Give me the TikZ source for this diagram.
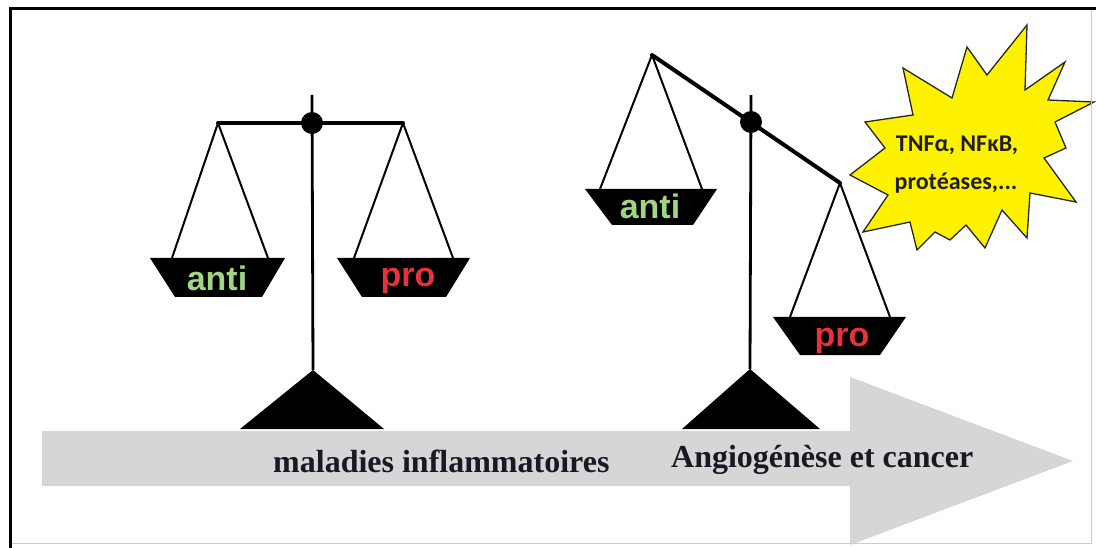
\documentclass[tikz,border=0pt]{standalone}
\usepackage{fontspec}
\newfontfamily\arialf{Liberation Sans}
\newfontfamily\calibf{Carlito}
\newfontfamily\timesf{Liberation Serif}
\definecolor{antigreen}{RGB}{160,214,130}
\definecolor{prored}{RGB}{230,50,58}
\definecolor{staryellow}{RGB}{255,242,0}
\definecolor{arrowgray}{RGB}{214,214,214}
\definecolor{textdark}{RGB}{25,25,35}
\tikzset{
  beamline/.style={line width=4pt, line cap=round},
  poleline/.style={line width=2.8pt},
  stringline/.style={line width=2pt, line join=round},
  panshape/.style={fill=black},
  basetri/.style={fill=black},
  pivotdot/.style={circle, fill=black, inner sep=0pt, minimum size=22pt},
  pantext/.style={font=\arialf\bfseries\fontsize{34}{34}\selectfont, inner sep=0pt, anchor=base},
  bottomtext/.style={font=\timesf\bfseries\fontsize{32}{32}\selectfont, text=textdark, inner sep=0pt, anchor=base west},
  startext/.style={font=\calibf\bfseries\fontsize{24}{24}\selectfont, text=black!88, inner sep=0pt, anchor=base},
}
\begin{document}
\begin{tikzpicture}[x=1pt,y=-1pt]
\useasboundingbox (0,0) rectangle (1096,548);
\fill[white] (0,0) rectangle (1096,548);

% big grey arrow
\fill[arrowgray] (42,431) -- (850,431) -- (850,377) -- (1073,461) -- (850,545) -- (850,486) -- (42,486) -- cycle;

% ---------- left balance ----------
\coordinate (Lpoletop) at (312,95);
\coordinate (Lapex) at (313,370);
\coordinate (Lbl) at (240,429);
\coordinate (Lbr) at (384,429);
\coordinate (LbeamL) at (218,123);
\coordinate (LbeamR) at (403,123);
\fill[basetri] (Lapex) -- (Lbr) -- (Lbl) -- cycle;
\draw[poleline] (Lpoletop) -- (Lapex);
\draw[beamline] (LbeamL) -- (LbeamR);
\node[pivotdot] (Lpivot) at (312,123) {};
% left pan
\coordinate (LpA) at (150,258); \coordinate (LpB) at (285,258);
\coordinate (LpC) at (262,297); \coordinate (LpD) at (175,297);
\fill[panshape] (LpA) -- (LpB) -- (LpC) -- (LpD) -- cycle;
\coordinate (LsA) at (172,258); \coordinate (LsB) at (268,258);
\draw[stringline] (LsA) -- (LbeamL) -- (LsB);
\node[pantext, text=antigreen] (Lanti) at (217,291) {anti};
% right pan
\coordinate (RpA) at (337,258); \coordinate (RpB) at (470,258);
\coordinate (RpC) at (446,297); \coordinate (RpD) at (362,297);
\fill[panshape] (RpA) -- (RpB) -- (RpC) -- (RpD) -- cycle;
\coordinate (RsA) at (354,258); \coordinate (RsB) at (453,258);
\draw[stringline] (RsA) -- (LbeamR) -- (RsB);
\node[pantext, text=prored] (Lpro) at (408,287) {pro};

% ---------- right balance ----------
\coordinate (Rpoletop) at (751,95);
\coordinate (Rapex) at (750,369);
\coordinate (Rbl) at (682,429);
\coordinate (Rbr) at (820,429);
\coordinate (RbeamL) at (652,55);
\coordinate (RbeamR) at (840,183);
\fill[basetri] (Rapex) -- (Rbr) -- (Rbl) -- cycle;
\draw[poleline] (Rpoletop) -- (Rapex);
\draw[beamline] (RbeamL) -- (RbeamR);
\node[pivotdot] (Rpivot) at (751,122) {};
% upper (anti) pan
\coordinate (UpA) at (585,189); \coordinate (UpB) at (717,189);
\coordinate (UpC) at (693,225); \coordinate (UpD) at (612,225);
\fill[panshape] (UpA) -- (UpB) -- (UpC) -- (UpD) -- cycle;
\coordinate (UsA) at (600,189); \coordinate (UsB) at (702,189);
\draw[stringline] (UsA) -- (RbeamL) -- (UsB);
\node[pantext, text=antigreen] (Ranti) at (650,219) {anti};
% lower (pro) pan
\coordinate (DpA) at (773,317); \coordinate (DpB) at (906,317);
\coordinate (DpC) at (880,355); \coordinate (DpD) at (800,355);
\fill[panshape] (DpA) -- (DpB) -- (DpC) -- (DpD) -- cycle;
\coordinate (DsA) at (790,317); \coordinate (DsB) at (890,317);
\draw[stringline] (DsA) -- (RbeamR) -- (DsB);
\node[pantext, text=prored] (Rpro) at (842,346) {pro};

% ---------- starburst ----------
\filldraw[fill=staryellow, draw=black!85, line width=1.3pt, line join=miter]
  (1027,25) -- (1025,90) -- (1065,62) -- (1048,100) -- (1094,102)
  -- (1055,122) -- (1066,148) -- (1044,158) -- (1076,202) -- (1030,193)
  -- (1027,238) -- (1002,210) -- (985,248) -- (966,225) -- (950,240)
  -- (935,232) -- (917,250) -- (910,222) -- (863,232) -- (888,195)
  -- (850,175) -- (885,148) -- (865,122) -- (913,115) -- (903,68)
  -- (952,98) -- (967,47) -- (987,75) -- cycle;
\node[startext] (st1) at (957,152) {TNFα, NFκB,};
\node[startext] (st2) at (956,190) {protéases,...};

% ---------- bottom labels ----------
\node[bottomtext] (mal) at (273,472) {maladies inflammatoires};
\node[bottomtext] (ang) at (671,467) {Angiogénèse et cancer};

% ---------- frame ----------
\draw[black!20, line width=1pt] (1091,9) -- (1091,543) -- (10,543);
\draw[line width=3pt] (10,548) -- (10,9) -- (1096,9);
\end{tikzpicture}
\end{document}
